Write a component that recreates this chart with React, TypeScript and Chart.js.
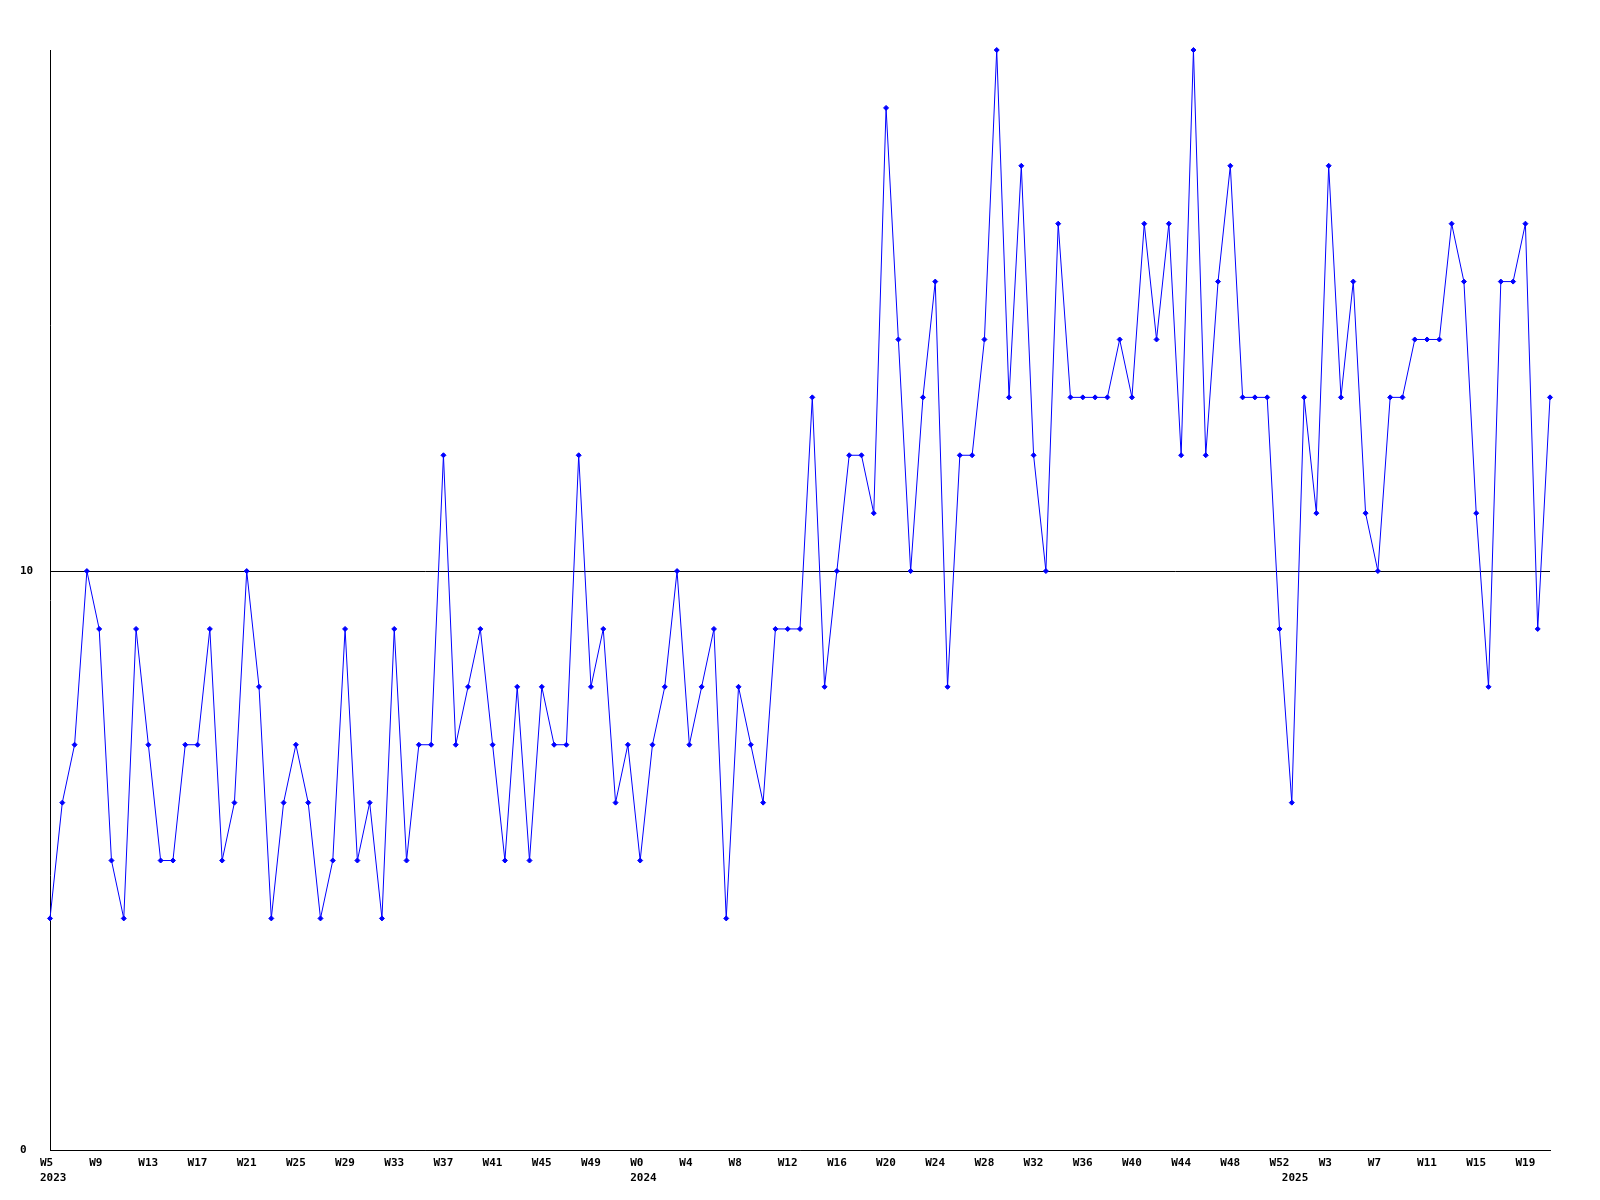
import React, { useEffect, useRef } from "react";
import { Chart, registerables } from "chart.js";

Chart.register(...registerables);

const weeks2023: string[] = [
  "W5", "W6", "W7", "W8", "W9", "W10", "W11", "W12", "W13", "W14", "W15", "W16",
  "W17", "W18", "W19", "W20", "W21", "W22", "W23", "W24", "W25", "W26", "W27", "W28",
  "W29", "W30", "W31", "W32", "W33", "W34", "W35", "W36", "W37", "W38", "W39", "W40",
  "W41", "W42", "W43", "W44", "W45", "W46", "W47", "W48", "W49", "W50", "W51", "W52",
];
const weeks2024: string[] = [
  "W0", "W1", "W2", "W3", "W4", "W5", "W6", "W7", "W8", "W9", "W10", "W11", "W12",
  "W13", "W14", "W15", "W16", "W17", "W18", "W19", "W20", "W21", "W22", "W23", "W24",
  "W25", "W26", "W27", "W28", "W29", "W30", "W31", "W32", "W33", "W34", "W35", "W36",
  "W37", "W38", "W39", "W40", "W41", "W42", "W43", "W44", "W45", "W46", "W47", "W48",
  "W49", "W50", "W51", "W52",
];
const weeks2025: string[] = [
  "W0", "W1", "W2", "W3", "W4", "W5", "W6", "W7", "W8", "W9", "W10", "W11",
  "W12", "W13", "W14", "W15", "W16", "W17", "W18", "W19", "W20", "W21",
];
const yearLabels: string[] = ["2023", "2024", "2025"];

const values: number[] = [
  4, 6, 7, 10, 9, 5, 4, 9, 7, 5,
  5, 7, 7, 9, 5, 6, 10, 8, 4, 6,
  7, 6, 4, 5, 9, 5, 6, 4, 9, 5,
  7, 7, 12, 7, 8, 9, 7, 5, 8, 5,
  8, 7, 7, 12, 8, 9, 6, 7, 5, 7,
  8, 10, 7, 8, 9, 4, 8, 7, 6, 9,
  9, 9, 13, 8, 10, 12, 12, 11, 18, 14,
  10, 13, 15, 8, 12, 12, 14, 19, 13, 17,
  12, 10, 16, 13, 13, 13, 13, 14, 13, 16,
  14, 16, 12, 19, 12, 15, 17, 13, 13, 13,
  9, 6, 13, 11, 17, 13, 15, 11, 10, 13,
  13, 14, 14, 14, 16, 15, 11, 8, 15, 15,
  16, 9, 13,
];

const yTickValues: number[] = [0, 10];
const yMin = 0;
const yMax = 19;
const weekLabelEvery = 4;

const yearGroups: string[][] = [weeks2023, weeks2024, weeks2025];

export default function App() {
  const canvasRef = useRef<HTMLCanvasElement | null>(null);

  useEffect(() => {
    const categories: string[] = [];
    const yearStart: Record<number, string> = {};
    yearGroups.forEach((g, gi) => {
      yearStart[categories.length] = yearLabels[gi];
      g.forEach((w) => categories.push(w));
    });

    const font = { family: "'DejaVu Sans Mono', monospace", size: 11, weight: "bold" as const, lineHeight: 1.4 };

    const chart = new Chart(canvasRef.current!, {
      type: "line",
      data: {
        labels: categories,
        datasets: [
          {
            data: values,
            borderColor: "#0000ff",
            backgroundColor: "#0000ff",
            borderWidth: 1,
            tension: 0,
            pointStyle: "rectRot",
            pointRadius: 2.5,
            pointBorderWidth: 1,
            pointBackgroundColor: "#0000ff",
            pointBorderColor: "#0000ff",
            clip: false as any,
          },
        ],
      },
      options: {
        responsive: false,
        animation: false,
        layout: { padding: { left: 20, right: 50, top: 50, bottom: 0 } },
        plugins: { legend: { display: false }, tooltip: { enabled: false } },
        scales: {
          x: {
            type: "category",
            offset: false,
            grid: { display: false },
            border: { display: true, color: "#000", width: 1 },
            ticks: {
              autoSkip: false,
              maxRotation: 0,
              minRotation: 0,
              align: "start",
              labelOffset: -10,
              padding: -3,
              color: "#000",
              font,
              callback: (_v: any, index: number) => {
                const wk = index % weekLabelEvery === 0 ? categories[index] : "";
                const yr = yearStart[index];
                if (yr !== undefined) return [wk, yr];
                return wk === "" ? null : wk;
              },
            },
            afterFit: (s: any) => {
              s.height = 50;
            },
          },
          y: {
            min: yMin,
            max: yMax,
            afterBuildTicks: (s: any) => {
              s.ticks = yTickValues.map((v) => ({ value: v }));
            },
            grid: { color: "#000", lineWidth: 1, drawTicks: false },
            border: { display: true, color: "#000", width: 1 },
            ticks: {
              crossAlign: "far",
              padding: 0,
              color: "#000",
              font,
            },
            afterFit: (s: any) => {
              s.width = 30;
            },
          },
        },
      },
    });
    return () => chart.destroy();
  }, []);

  return (
    <div style={{ position: "absolute", left: 0, top: 0, width: 1600, height: 1200, background: "#fff" }}>
      <canvas ref={canvasRef} width={1600} height={1200} />
    </div>
  );
}
